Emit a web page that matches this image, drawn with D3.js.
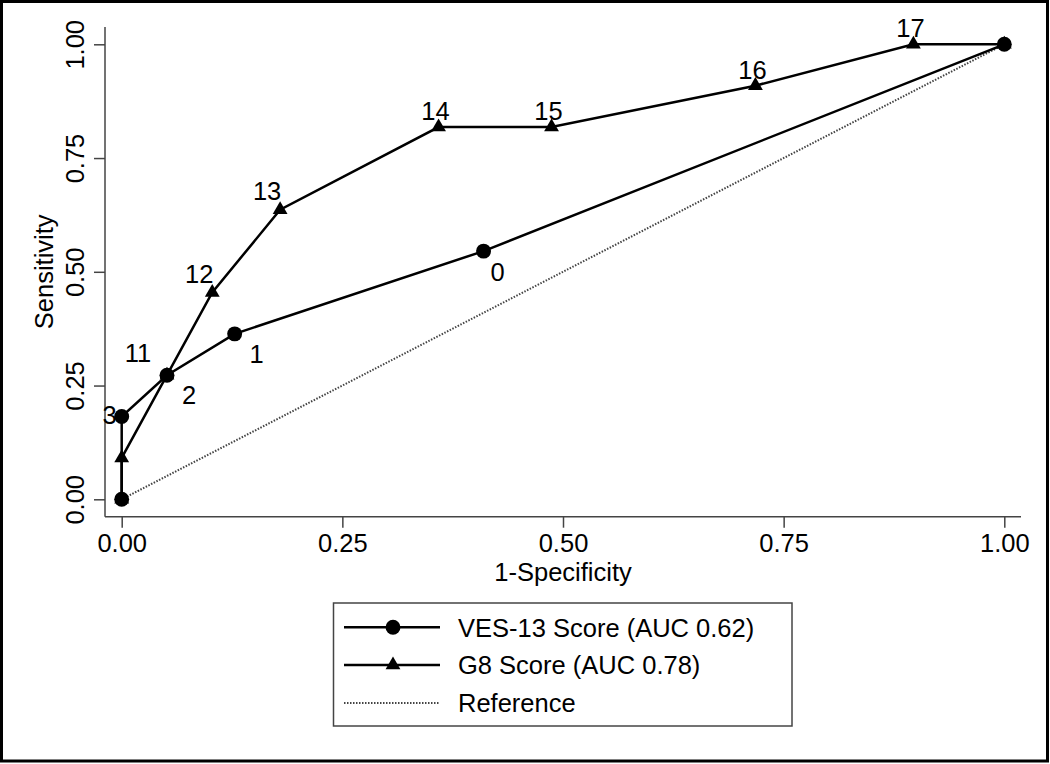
<!DOCTYPE html>
<html>
<head>
<meta charset="utf-8">
<script src="https://cdn.jsdelivr.net/npm/d3@7"></script>
<style>
  html, body { margin: 0; padding: 0; background: #fff; }
  svg { display: block; }
  text { font-family: "Liberation Sans", Arial, Helvetica, sans-serif; fill: #000; }
</style>
</head>
<body>
<svg id="chart" width="1050" height="764"></svg>
<script>
// ---- data ----
const vesFpr   = [0, 0, 0.0513, 0.128, 0.410, 1];
const vesSens  = [0, 0.1818, 0.2727, 0.3636, 0.5455, 1];
const vesLabels = ["", "3", "2", "1", "0", ""];
const vesLabelClock = [0, 9, 4, 4, 5, 0];

const g8Fpr   = [0, 0, 0.0513, 0.1026, 0.1795, 0.359, 0.487, 0.718, 0.897, 1];
const g8Sens  = [0, 0.0909, 0.2727, 0.4545, 0.6364, 0.8182, 0.8182, 0.9091, 1, 1];
const g8Labels = ["", "", "11", "12", "13", "14", "15", "16", "17", ""];
const g8LabelClock = [0, 0, 10, 11, 11, 12, 12, 12, 12, 0];

const refFpr  = [0, 1];
const refSens = [0, 1];

const tickValues = [0, 0.25, 0.5, 0.75, 1];
const tickLabels = ["0.00", "0.25", "0.50", "0.75", "1.00"];
const xTitle = "1-Specificity";
const yTitle = "Sensitivity";
const legendLabels = ["VES-13 Score (AUC 0.62)", "G8 Score (AUC 0.78)", "Reference"];

// ---- layout / style ----
const FONT = 25.5;
const clockOffset = { 9: [-12, -2], 4: [22, 20], 5: [14, 21], 10: [-29, -22], 11: [-13, -19], 12: [-3, -16] };

const svg = d3.select("#chart");
const x = d3.scaleLinear().domain([0, 1]).range([121.7, 1004.3]);
const y = d3.scaleLinear().domain([0, 1]).range([499.3, 44.3]);
const axisX0 = 105, axisX1 = 1021, axisY0 = 27, axisY1 = 516.7;
const plotMidX = (x.range()[0] + x.range()[1]) / 2;

// outer frame
svg.append("rect").attr("x", 1.5).attr("y", 1.5).attr("width", 1046).attr("height", 759.5)
  .attr("fill", "none").attr("stroke", "#000").attr("stroke-width", 3);

// axes
const gx = svg.append("g").attr("transform", `translate(0,${axisY1})`)
  .call(d3.axisBottom(x).tickValues(tickValues).tickFormat((d, i) => tickLabels[i]).tickSize(11).tickSizeOuter(0));
gx.select(".domain").remove();
gx.selectAll(".tick line").attr("stroke", "#444").attr("stroke-width", 1.5);
gx.selectAll(".tick text").attr("y", 35.5).attr("dy", 0).attr("font-size", FONT)
  .attr("font-family", "Liberation Sans, Arial, sans-serif").attr("fill", "#000");
svg.append("line").attr("x1", axisX0).attr("x2", axisX1).attr("y1", axisY1).attr("y2", axisY1)
  .attr("stroke", "#444").attr("stroke-width", 1.5);

const gy = svg.append("g").attr("transform", `translate(${axisX0},0)`)
  .call(d3.axisLeft(y).tickValues(tickValues).tickFormat((d, i) => tickLabels[i]).tickSize(11).tickSizeOuter(0));
gy.select(".domain").remove();
gy.selectAll(".tick line").attr("stroke", "#444").attr("stroke-width", 1.5);
gy.selectAll(".tick text").attr("x", 0).attr("y", 0).attr("dy", 0)
  .attr("transform", "translate(-21,0) rotate(-90)").attr("text-anchor", "middle")
  .attr("font-size", FONT).attr("font-family", "Liberation Sans, Arial, sans-serif").attr("fill", "#000");
svg.append("line").attr("x1", axisX0).attr("x2", axisX0).attr("y1", axisY0).attr("y2", axisY1)
  .attr("stroke", "#444").attr("stroke-width", 1.5);

// titles
svg.append("text").attr("x", plotMidX).attr("y", 581).attr("text-anchor", "middle").attr("font-size", FONT).text(xTitle);
svg.append("text").attr("transform", `translate(53,${(axisY0 + axisY1) / 2}) rotate(-90)`)
  .attr("text-anchor", "middle").attr("font-size", FONT).text(yTitle);

// lines
const line = d3.line().x(d => x(d[0])).y(d => y(d[1]));
const refPts = refFpr.map((v, i) => [v, refSens[i]]);
const vesPts = vesFpr.map((v, i) => [v, vesSens[i]]);
const g8Pts = g8Fpr.map((v, i) => [v, g8Sens[i]]);

svg.append("path").attr("d", line(refPts)).attr("fill", "none").attr("stroke", "#444")
  .attr("stroke-width", 2).attr("stroke-dasharray", "1.5,1.5");
svg.append("path").attr("d", line(vesPts)).attr("fill", "none").attr("stroke", "#000").attr("stroke-width", 2.5);
svg.append("path").attr("d", line(g8Pts)).attr("fill", "none").attr("stroke", "#000").attr("stroke-width", 2.5);

function addLabels(pts, labels, clocks) {
  pts.forEach((d, i) => {
    if (!labels[i]) return;
    const off = clockOffset[clocks[i]];
    svg.append("text").attr("x", x(d[0]) + off[0]).attr("y", y(d[1]) + off[1])
      .attr("dy", "0.36em").attr("text-anchor", "middle").attr("font-size", FONT).text(labels[i]);
  });
}
addLabels(vesPts, vesLabels, vesLabelClock);
addLabels(g8Pts, g8Labels, g8LabelClock);

const circleSym = d3.symbol().type(d3.symbolCircle).size(175);
const triSym = d3.symbol().type(d3.symbolTriangle).size(95);

svg.selectAll(".ves-pt").data(vesPts).enter().append("path")
  .attr("d", circleSym).attr("transform", d => `translate(${x(d[0])},${y(d[1])})`).attr("fill", "#000");
svg.selectAll(".g8-pt").data(g8Pts).enter().append("path")
  .attr("d", triSym).attr("transform", d => `translate(${x(d[0])},${y(d[1])})`).attr("fill", "#000");

// legend
const lg = svg.append("g");
lg.append("rect").attr("x", 333.5).attr("y", 603).attr("width", 458.5).attr("height", 123)
  .attr("fill", "#fff").attr("stroke", "#444").attr("stroke-width", 1.5);
const rowY = [627.3, 665, 703];
legendLabels.forEach((lab, i) => {
  const ln = lg.append("line").attr("x1", 344).attr("x2", 440).attr("y1", rowY[i]).attr("y2", rowY[i]);
  if (i < 2) ln.attr("stroke", "#000").attr("stroke-width", 2.5);
  else ln.attr("stroke", "#444").attr("stroke-width", 2).attr("stroke-dasharray", "1.5,1.5");
  if (i === 0) lg.append("path").attr("d", circleSym).attr("transform", `translate(393,${rowY[i]})`).attr("fill", "#000");
  if (i === 1) lg.append("path").attr("d", triSym).attr("transform", `translate(393,${rowY[i]})`).attr("fill", "#000");
  lg.append("text").attr("x", 458).attr("y", rowY[i] + 9.3).attr("font-size", FONT).text(lab);
});
</script>
</body>
</html>
